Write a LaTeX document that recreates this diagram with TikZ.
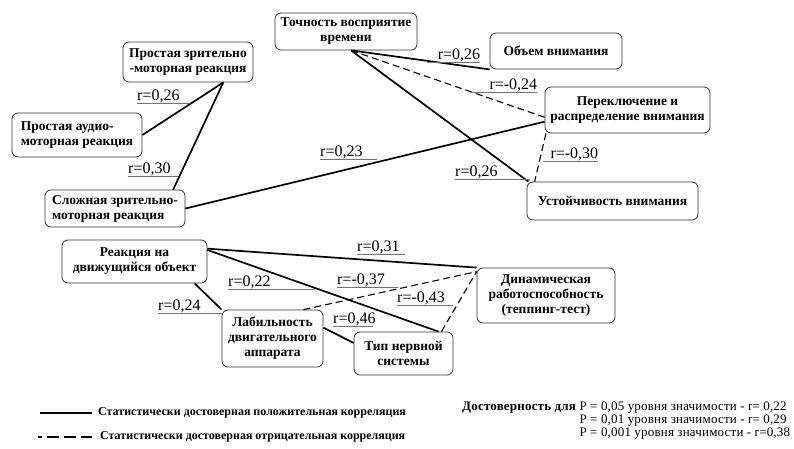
\documentclass[tikz,border=0pt]{standalone}
\usepackage{fontspec}
\setmainfont{Liberation Serif}
\usepackage{tikz}
\usetikzlibrary{positioning}

\begin{document}
\begin{tikzpicture}[
    x=1pt, y=-1pt,
    box/.style={rectangle, draw=black!80, line width=0.8pt, rounded corners=6pt, fill=white, align=center, inner sep=2pt, font=\fontsize{13.5}{15}\selectfont\bfseries},
    poscor/.style={line width=1.7pt},
    negcor/.style={line width=1.1pt, dash pattern=on 7pt off 4pt},
    rlab/.style={font=\fontsize{16}{16}\selectfont, inner sep=0pt, anchor=south west, align=left},
    uline/.style={draw=black!55, line width=0.8pt},
    legend/.style={font=\fontsize{12}{13}\selectfont\bfseries, inner sep=0pt, anchor=west}
]
\useasboundingbox (0,0) rectangle (794,448);

% boxes
\node[box, minimum width=130pt, minimum height=40pt] (prz) at (188,62)    {Простая зрительно\\-моторная реакция};
\node[box, minimum width=130pt, minimum height=44pt, align=left] (pam) at (77,135) {Простая аудио-\\моторная реакция};
\node[box, minimum width=140pt, minimum height=37pt, align=left] (szm) at (115,208.5) {Сложная зрительно-\\моторная реакция};
\node[box, minimum width=142pt, minimum height=37pt] (tvv) at (346,31.5)  {Точность восприятие\\времени};
\node[box, minimum width=132pt, minimum height=36pt] (ov)  at (556,51)    {Объем внимания};
\node[box, minimum width=165pt, minimum height=46pt] (prv) at (627.5,110) {Переключение и\\распределение внимания};
\node[box, minimum width=171pt, minimum height=38pt] (uv)  at (612.5,201) {Устойчивость внимания};
\node[box, minimum width=145pt, minimum height=43pt] (rdo) at (134.5,261.5) {Реакция на\\движущийся объект};
\node[box, minimum width=101pt, minimum height=57pt] (lda) at (272.5,338.5) {Лабильность\\двигательного\\аппарата};
\node[box, minimum width=99pt,  minimum height=43pt] (tns) at (403.5,353.5) {Тип нервной\\системы};
\node[box, minimum width=138pt, minimum height=55pt] (drt) at (546,295.5) {Динамическая\\работоспособность\\(теппинг-тест)};

% correlations
\draw[poscor] (pam.east)  -- (prz.-30);
\draw[poscor] (szm.18)    -- (prz.-30);
\draw[poscor] (szm.east)  -- (prv.188);
\draw[poscor] (tvv.-75)   -- (ov.south west);
\draw[negcor] (tvv.-75)   -- (prv.185);
\draw[poscor] (tvv.-75)   -- (uv.167);
\draw[negcor] (prv.196)   -- (uv.166);
\draw[poscor] (rdo.10)    -- (drt.north west);
\draw[poscor] (rdo.9)     -- (tns.32);
\draw[poscor] (rdo.-20)   -- (lda.north west);
\draw[negcor] (lda.43)    -- (drt.161);
\draw[negcor] (tns.30)    -- (drt.161);
\draw[poscor] (lda.12)    -- (tns.168);

% r values
\node[rlab, text width=53pt] (la) at (137,103) {r=0,26};
\node[rlab, text width=50pt] (lb) at (128,176) {r=0,30};
\node[rlab, text width=57pt] (lc) at (320,159) {r=0,23};
\node[rlab, text width=53pt, align=right] (ld) at (427,62) {r=0,26};
\node[rlab, text width=67pt, align=right] (le) at (470,92) {r=-0,24};
\node[rlab, text width=55pt, align=right] (lf) at (543,161) {r=-0,30};
\node[rlab, text width=75pt] (lg) at (455,179) {r=0,26};
\node[rlab, text width=48pt] (lh) at (357,254) {r=0,31};
\node[rlab, text width=87pt] (li) at (228,289) {r=0,22};
\node[rlab, text width=61pt] (lj) at (337,287) {r=-0,37};
\node[rlab, text width=56pt] (lk) at (397,305) {r=-0,43};
\node[rlab, text width=40pt] (ll) at (333,326) {r=0,46};
\node[rlab, text width=65pt] (lm) at (158,313) {r=0,24};
\foreach \l in {la,lb,lc,ld,le,lf,lg,lh,li,lj,lk,ll,lm}
    \draw[uline] (\l.south west) -- (\l.south east);

% legend
\node[legend] (lgp) at (98,413)  {Статистически достоверная положительная корреляция};
\node[legend] (lgn) at (100,437) {Статистически достоверная отрицательная корреляция};
\draw[poscor] ([xshift=-58pt]lgp.west) -- ([xshift=-6pt]lgp.west);
\draw[line width=1.1pt, dash pattern=on 4pt off 5pt on 12pt off 5pt on 12pt off 5pt on 12pt off 5pt] ([xshift=-62pt]lgn.west) -- ([xshift=-8pt]lgn.west);
\node[font=\fontsize{13}{13}\selectfont\addfontfeature{LetterSpace=1.5}, inner sep=0pt, anchor=base west] (sig) at (462,410)
    {\begin{tabular}[t]{@{}r@{\ }l@{}}
     \textbf{Достоверность для}&P = 0,05 уровня значимости - r= 0,22\\
     &P = 0,01 уровня значимости - r= 0,29\\
     &P = 0,001 уровня значимости - r=0,38
     \end{tabular}};
\end{tikzpicture}
\end{document}
